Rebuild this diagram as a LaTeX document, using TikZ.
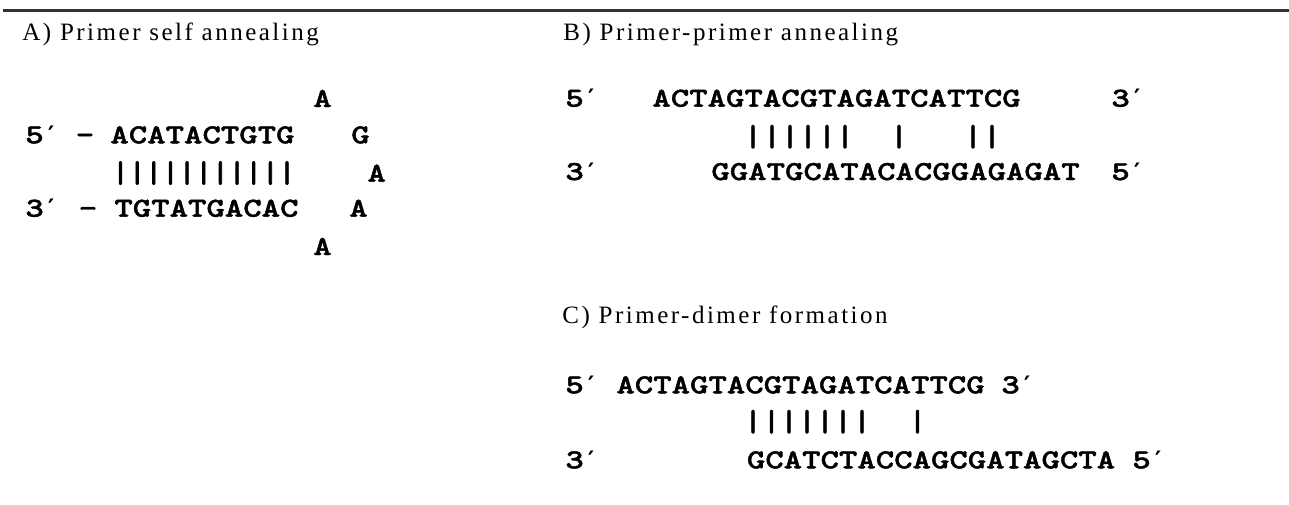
\documentclass[tikz,border=0pt]{standalone}
\usepackage{fontspec}
\setmainfont{Liberation Serif}
\newfontfamily\seqfont{lmmonolt10-bold}[Extension=.otf, FakeStretch=1.28, FakeBold=1.6]
\newfontfamily\barfont{lmmonolt10-bold}[Extension=.otf, FakeBold=2.5]
\newfontfamily\primefont{DejaVu Sans Mono Bold}
\newfontfamily\titlefont{Liberation Serif}[LetterSpace=10]
\newcommand\pr{{\primefont\fontsize{12}{14}\selectfont ′}}
\tikzset{
  ttl/.style={anchor=base west, inner sep=0pt, font=\titlefont\fontsize{12.5}{14}\selectfont},
  seq/.style={anchor=base west, inner sep=0pt, font=\seqfont\fontsize{13.7}{16}\selectfont},
  seqc/.style={anchor=base, inner sep=0pt, font=\seqfont\fontsize{13.7}{16}\selectfont},
  pairbar/.style={anchor=center, inner sep=0pt, font=\barfont\fontsize{15}{16}\selectfont},
  topline/.style={draw=black!80, line width=1.2pt},
}
\begin{document}
\begin{tikzpicture}[x=0.5pt,y=-0.5pt]
\useasboundingbox[fill=white] (0,0) rectangle (1289,504);
\coordinate (L0) at (3,10.5);
\coordinate (L1) at (1289,10.5);
\draw[topline] (L0) -- (L1);
% A
\node[ttl] (tA) at (22,40) {A) Primer self annealing};
\node[seqc] (aTop) at (322.5,107) {A};
\node[seq] (a5) at (25,143.3) {5\pr};
\node[seqc] (ad1) at (85,143.3) {–};
\node[seq] (aS1) at (110,143.3) {ACATACTGTG};
\node[seqc] (aG) at (360.5,143.3) {G};
\foreach \x [count=\i] in {120.5,137.2,153.8,170.5,187.1,203.8,220.4,237.1,253.7,270.4,287}
  \node[pairbar] (aB\i) at (\x,173) {|};
\node[seqc] (aMid) at (376.7,181.7) {A};
\node[seq] (a3) at (25,216.7) {3\pr};
\node[seqc] (ad2) at (88,216.7) {–};
\node[seq] (aS2) at (114,216.7) {TGTATGACAC};
\node[seqc] (aA3) at (358.5,216.7) {A};
\node[seqc] (aBot) at (322.5,255) {A};
% B
\node[ttl] (tB) at (563,40) {B) Primer-primer annealing};
\node[seq] (b5) at (565,106.7) {5\pr};
\node[seq] (bS1) at (652,106.7) {ACTAGTACGTAGATCATTCG};
\node[seq] (b3r) at (1111,106.7) {3\pr};
\foreach \x [count=\i] in {753,772,790,808,827,845,899,973,992}
  \node[pairbar] (bB\i) at (\x,136.7) {|};
\node[seq] (b3) at (565,180) {3\pr};
\node[seq] (bS2) at (711,180) {GGATGCATACACGGAGAGAT};
\node[seq] (b5r) at (1111,180) {5\pr};
% C
\node[ttl] (tC) at (562,323) {C) Primer-dimer formation};
\node[seq] (c5) at (565,393.3) {5\pr};
\node[seq] (cS1) at (616,393.3) {ACTAGTACGTAGATCATTCG};
\node[seq] (c3r) at (1001,393.3) {3\pr};
\foreach \x [count=\i] in {753,771.5,789,807,825,843,862,917.5}
  \node[pairbar] (cB\i) at (\x,421.7) {|};
\node[seq] (c3) at (565,468.3) {3\pr};
\node[seq] (cS2) at (746.5,468.3) {GCATCTACCAGCGATAGCTA};
\node[seq] (c5r) at (1132,468.3) {5\pr};
\end{tikzpicture}
\end{document}
